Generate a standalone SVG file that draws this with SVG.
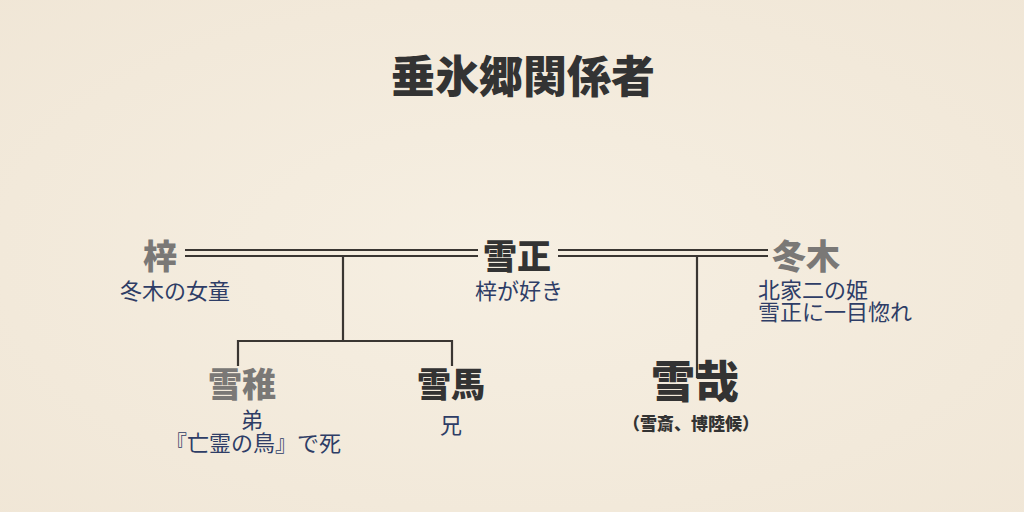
<svg xmlns="http://www.w3.org/2000/svg" width="1024" height="512" viewBox="0 0 1024 512">
<defs>
<style>
.name{font-family:"Noto Sans CJK JP","Noto Sans",sans-serif;font-weight:900;text-anchor:middle}
.dark{fill:#333333}
.gray{fill:#7a7876}
.sub{font-family:"Noto Sans CJK JP","Noto Sans",sans-serif;font-size:22px;fill:#2e3d66}
.ln{stroke:#3a3632;stroke-width:2.2;fill:none}
</style>
<radialGradient id="bg" cx="0.5" cy="0.5" r="0.75">
<stop offset="0" stop-color="#f6efe2"/>
<stop offset="1" stop-color="#f0e6d6"/>
</radialGradient>
</defs>
<rect width="1024" height="512" fill="url(#bg)"/>
<text x="523" y="93" class="name dark" font-size="44">垂氷郷関係者</text>
<g id="connectors">
<path class="ln" d="M185 250H478M185 256H478M558 250H768M558 256H768"/>
<path class="ln" d="M343 256V341M238 366V341H452V366"/>
<path class="ln" d="M697 256V378"/>
</g>
<g id="node-azusa">
<text x="160" y="269" class="name gray" font-size="34">梓</text>
<text x="175" y="299" class="sub" text-anchor="middle">冬木の女童</text>
</g>
<g id="node-sessei">
<text x="517" y="269" class="name dark" font-size="34">雪正</text>
<text x="519" y="299" class="sub" text-anchor="middle">梓が好き</text>
</g>
<g id="node-fuyuki">
<text x="806" y="269" class="name gray" font-size="34">冬木</text>
<text x="758" y="298" class="sub">北家二の姫</text>
<text x="758" y="320" class="sub">雪正に一目惚れ</text>
</g>
<g id="node-yukiji">
<text x="242" y="397" class="name gray" font-size="34">雪稚</text>
<text x="252" y="428" class="sub" text-anchor="middle" font-size="20">弟</text>
<text x="253" y="451" class="sub" text-anchor="middle" font-size="20">『亡霊の鳥』で死</text>
</g>
<g id="node-yukima">
<text x="451" y="397" class="name dark" font-size="34">雪馬</text>
<text x="451" y="433" class="sub" text-anchor="middle" font-size="20">兄</text>
</g>
<g id="node-yukiya">
<text x="695" y="398" class="name dark" font-size="44">雪哉</text>
<text x="691" y="430" class="name dark" font-size="17">（雪斎、博陸候）</text>
</g>
</svg>
